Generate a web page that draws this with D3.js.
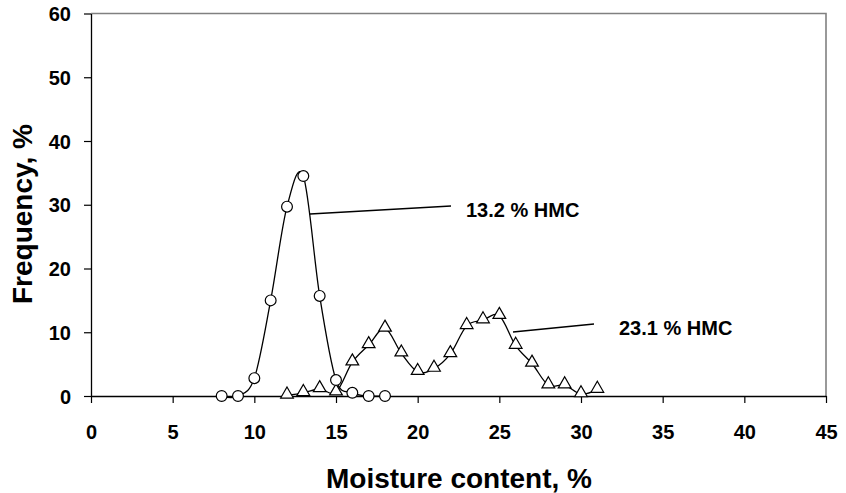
<!DOCTYPE html>
<html>
<head>
<meta charset="utf-8">
<script src="https://cdn.jsdelivr.net/npm/d3@7"></script>
<style>
  html, body { margin: 0; padding: 0; background: #fff; }
  text { font-family: "Liberation Sans", Arial, sans-serif; font-weight: bold; }
</style>
</head>
<body>
<svg id="chart" width="846" height="493"></svg>
<script>
// Data
const xLow = [8, 9, 10, 11, 12, 13, 14, 15, 16, 17, 18];
const yLow = [0, 0, 2.8, 15.0, 29.7, 34.5, 15.7, 2.5, 0.5, 0, 0];
const xHigh = [12, 13, 14, 15, 16, 17, 18, 19, 20, 21, 22, 23, 24, 25, 26, 27, 28, 29, 30, 31];
const yHigh = [0.1, 0.5, 1.1, 0.6, 5.3, 8.0, 10.6, 6.7, 3.8, 4.3, 6.6, 11.0, 11.9, 12.6, 7.9, 5.1, 1.7, 1.7, 0.3, 1.0];
const xTicks = [0, 5, 10, 15, 20, 25, 30, 35, 40, 45];
const yTicks = [0, 10, 20, 30, 40, 50, 60];
const labelLow = "13.2 % HMC";
const labelHigh = "23.1 % HMC";
const xTitle = "Moisture content, %";
const yTitle = "Frequency, %";

const svg = d3.select("#chart");
const L = 91, R = 826, T = 13.5, B = 396;
const x = d3.scaleLinear().domain([0, 45]).range([L, R]);
const y = d3.scaleLinear().domain([0, 60]).range([B, T]);

// plot border (top/right gray)
svg.append("path")
  .attr("d", `M${L},${T}H${R}V${B}`)
  .attr("fill", "none").attr("stroke", "#808080").attr("stroke-width", 1.6);

// axes
const yAxis = d3.axisLeft(y).tickValues(yTicks).tickSize(7).tickPadding(13).tickSizeOuter(0);
const gy = svg.append("g").attr("transform", `translate(${L},0)`).call(yAxis);
const xAxis = d3.axisBottom(x).tickValues(xTicks).tickSize(7).tickPadding(22).tickSizeOuter(0);
const gx = svg.append("g").attr("transform", `translate(0,${B})`).call(xAxis);
[gx, gy].forEach(g => {
  g.select(".domain").attr("stroke", "#000").attr("stroke-width", 1.3);
  g.selectAll(".tick line").attr("stroke", "#000").attr("stroke-width", 1.2);
  g.selectAll("text").attr("font-size", 20).attr("fill", "#000")
    .attr("font-family", "'Liberation Sans', Arial, sans-serif").attr("font-weight", "bold");
});
gy.selectAll("text").attr("dy", "0.36em");

// axis titles
svg.append("text").attr("x", 459).attr("y", 488)
  .attr("text-anchor", "middle").attr("font-size", 28).text(xTitle);
svg.append("text").attr("transform", `translate(32,214) rotate(-90)`)
  .attr("text-anchor", "middle").attr("font-size", 28).text(yTitle);

const line = d3.line().x(d => x(d[0])).y(d => y(d[1])).curve(d3.curveCatmullRom.alpha(0));
const lowData = xLow.map((v, i) => [v, yLow[i]]);
const highData = xHigh.map((v, i) => [v, yHigh[i]]);

svg.append("path").datum(highData).attr("d", line)
  .attr("fill", "none").attr("stroke", "#000").attr("stroke-width", 1.3);
svg.append("path").datum(lowData).attr("d", line)
  .attr("fill", "none").attr("stroke", "#000").attr("stroke-width", 1.3);

// triangle markers
const tri = d3.symbol().type(d3.symbolTriangle).size(70);
svg.selectAll(".tri").data(highData).enter().append("path")
  .attr("transform", d => `translate(${x(d[0])},${y(d[1]) - 1})`)
  .attr("d", tri).attr("fill", "#fff").attr("stroke", "#000").attr("stroke-width", 1.2);

// circle markers
svg.selectAll(".circ").data(lowData).enter().append("circle")
  .attr("cx", d => x(d[0])).attr("cy", d => y(d[1])).attr("r", 5.4)
  .attr("fill", "#fff").attr("stroke", "#000").attr("stroke-width", 1.2);

// annotations
svg.append("line").attr("x1", 310).attr("y1", 214).attr("x2", 451).attr("y2", 206)
  .attr("stroke", "#000").attr("stroke-width", 1.3);
svg.append("text").attr("x", 466).attr("y", 217).attr("font-size", 20).text(labelLow);
svg.append("line").attr("x1", 513).attr("y1", 332).attr("x2", 594).attr("y2", 324)
  .attr("stroke", "#000").attr("stroke-width", 1.3);
svg.append("text").attr("x", 619).attr("y", 335).attr("font-size", 20).text(labelHigh);
</script>
</body>
</html>
